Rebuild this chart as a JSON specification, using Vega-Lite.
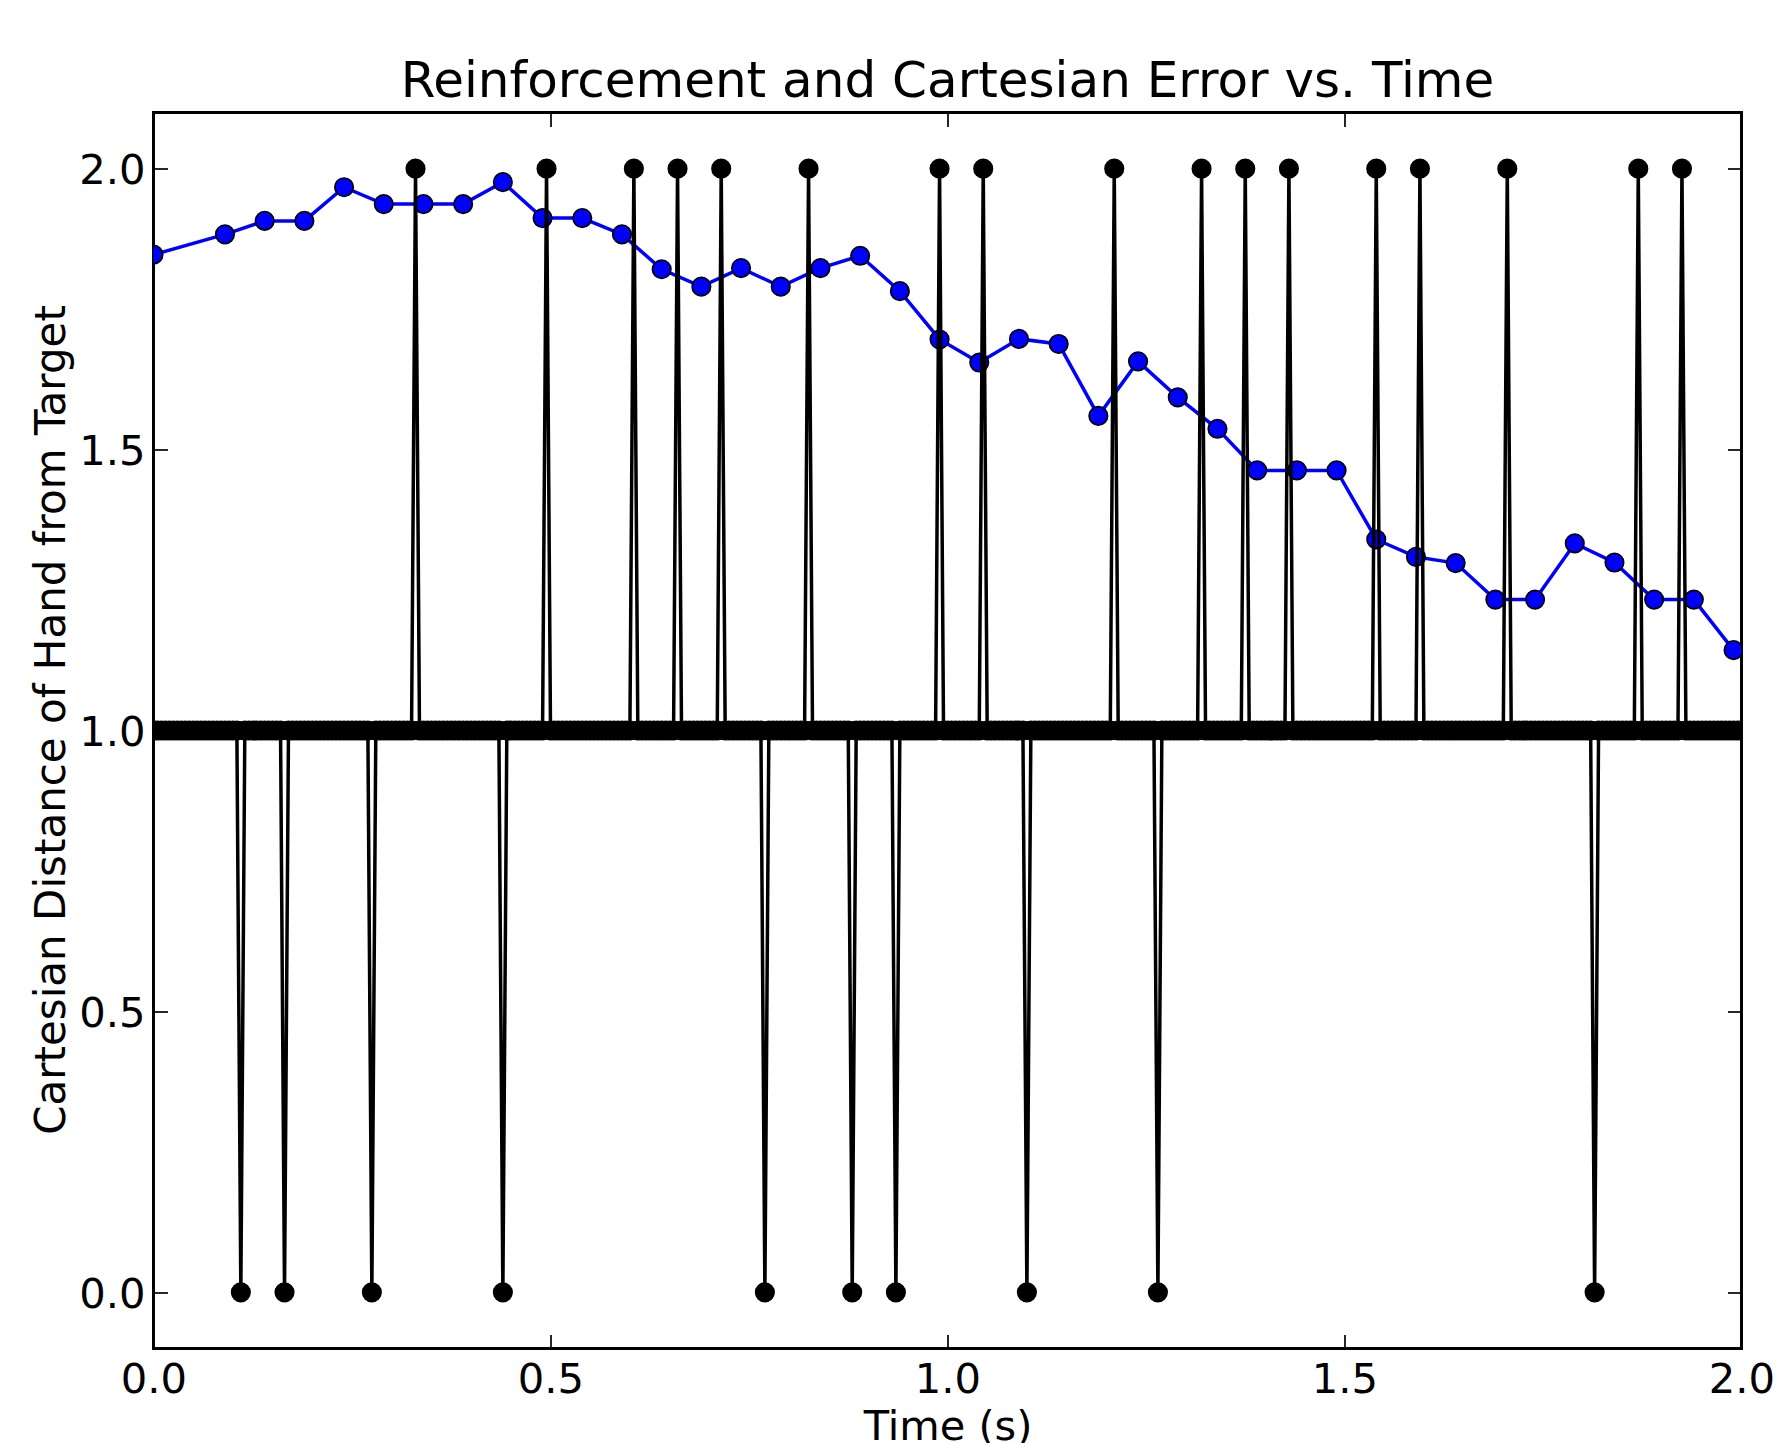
{
"$schema": "https://vega.github.io/schema/vega-lite/v6.json",
"width": 1588,
"height": 1236,
"autosize": {"type": "none"},
"padding": {"left": 153.5, "top": 112.5, "right": 35.5, "bottom": 94.5},
"background": "#ffffff",
"title": {"text": "Reinforcement and Cartesian Error vs. Time", "font": "DejaVu Sans", "fontSize": 50, "fontWeight": "normal", "color": "#000000", "anchor": "middle", "frame": "group", "baseline": "alphabetic", "offset": 16, "dy": 51},
"config": {
  "view": {"stroke": "#000000", "strokeWidth": 3},
  "font": "DejaVu Sans",
  "axis": {"grid": false, "domain": false, "tickSize": -14, "tickColor": "#000000", "tickWidth": 1.7, "labelFont": "DejaVu Sans", "labelFontSize": 41.7, "labelColor": "#000000", "labelFlush": false, "labelOverlap": false, "labelBound": false, "titleFont": "DejaVu Sans", "titleFontSize": 41.5, "titleFontWeight": "normal", "titleColor": "#000000"}
},
"datasets": {
  "error": [
    {"t":0.00,"d":1.847},{"t":0.09,"d":1.883},{"t":0.14,"d":1.907},{"t":0.19,"d":1.907},{"t":0.24,"d":1.967},{"t":0.29,"d":1.937},{"t":0.34,"d":1.937},{"t":0.39,"d":1.937},{"t":0.44,"d":1.976},{"t":0.49,"d":1.912},
    {"t":0.54,"d":1.912},{"t":0.59,"d":1.883},{"t":0.64,"d":1.821},{"t":0.69,"d":1.790},{"t":0.74,"d":1.823},{"t":0.79,"d":1.790},{"t":0.84,"d":1.823},{"t":0.89,"d":1.845},{"t":0.94,"d":1.782},{"t":0.99,"d":1.696},
    {"t":1.04,"d":1.655},{"t":1.09,"d":1.697},{"t":1.14,"d":1.688},{"t":1.19,"d":1.560},{"t":1.24,"d":1.657},{"t":1.29,"d":1.593},{"t":1.34,"d":1.537},{"t":1.39,"d":1.463},{"t":1.44,"d":1.463},{"t":1.49,"d":1.463},
    {"t":1.54,"d":1.340},{"t":1.59,"d":1.309},{"t":1.64,"d":1.298},{"t":1.69,"d":1.233},{"t":1.74,"d":1.233},{"t":1.79,"d":1.333},{"t":1.84,"d":1.299},{"t":1.89,"d":1.233},{"t":1.94,"d":1.233},{"t":1.99,"d":1.143}
  ],
  "reward": [
    {"t":0.000,"r":1},{"t":0.005,"r":1},{"t":0.010,"r":1},{"t":0.015,"r":1},{"t":0.020,"r":1},{"t":0.025,"r":1},{"t":0.030,"r":1},{"t":0.035,"r":1},{"t":0.040,"r":1},{"t":0.045,"r":1},{"t":0.050,"r":1},{"t":0.055,"r":1},{"t":0.060,"r":1},{"t":0.065,"r":1},{"t":0.070,"r":1},{"t":0.075,"r":1},{"t":0.080,"r":1},{"t":0.085,"r":1},{"t":0.090,"r":1},{"t":0.095,"r":1},
    {"t":0.100,"r":1},{"t":0.105,"r":1},{"t":0.110,"r":0},{"t":0.115,"r":1},{"t":0.120,"r":1},{"t":0.125,"r":1},{"t":0.130,"r":1},{"t":0.135,"r":1},{"t":0.140,"r":1},{"t":0.145,"r":1},{"t":0.150,"r":1},{"t":0.155,"r":1},{"t":0.160,"r":1},{"t":0.165,"r":0},{"t":0.170,"r":1},{"t":0.175,"r":1},{"t":0.180,"r":1},{"t":0.185,"r":1},{"t":0.190,"r":1},{"t":0.195,"r":1},
    {"t":0.200,"r":1},{"t":0.205,"r":1},{"t":0.210,"r":1},{"t":0.215,"r":1},{"t":0.220,"r":1},{"t":0.225,"r":1},{"t":0.230,"r":1},{"t":0.235,"r":1},{"t":0.240,"r":1},{"t":0.245,"r":1},{"t":0.250,"r":1},{"t":0.255,"r":1},{"t":0.260,"r":1},{"t":0.265,"r":1},{"t":0.270,"r":1},{"t":0.275,"r":0},{"t":0.280,"r":1},{"t":0.285,"r":1},{"t":0.290,"r":1},{"t":0.295,"r":1},
    {"t":0.300,"r":1},{"t":0.305,"r":1},{"t":0.310,"r":1},{"t":0.315,"r":1},{"t":0.320,"r":1},{"t":0.325,"r":1},{"t":0.330,"r":2},{"t":0.335,"r":1},{"t":0.340,"r":1},{"t":0.345,"r":1},{"t":0.350,"r":1},{"t":0.355,"r":1},{"t":0.360,"r":1},{"t":0.365,"r":1},{"t":0.370,"r":1},{"t":0.375,"r":1},{"t":0.380,"r":1},{"t":0.385,"r":1},{"t":0.390,"r":1},{"t":0.395,"r":1},
    {"t":0.400,"r":1},{"t":0.405,"r":1},{"t":0.410,"r":1},{"t":0.415,"r":1},{"t":0.420,"r":1},{"t":0.425,"r":1},{"t":0.430,"r":1},{"t":0.435,"r":1},{"t":0.440,"r":0},{"t":0.445,"r":1},{"t":0.450,"r":1},{"t":0.455,"r":1},{"t":0.460,"r":1},{"t":0.465,"r":1},{"t":0.470,"r":1},{"t":0.475,"r":1},{"t":0.480,"r":1},{"t":0.485,"r":1},{"t":0.490,"r":1},{"t":0.495,"r":2},
    {"t":0.500,"r":1},{"t":0.505,"r":1},{"t":0.510,"r":1},{"t":0.515,"r":1},{"t":0.520,"r":1},{"t":0.525,"r":1},{"t":0.530,"r":1},{"t":0.535,"r":1},{"t":0.540,"r":1},{"t":0.545,"r":1},{"t":0.550,"r":1},{"t":0.555,"r":1},{"t":0.560,"r":1},{"t":0.565,"r":1},{"t":0.570,"r":1},{"t":0.575,"r":1},{"t":0.580,"r":1},{"t":0.585,"r":1},{"t":0.590,"r":1},{"t":0.595,"r":1},
    {"t":0.600,"r":1},{"t":0.605,"r":2},{"t":0.610,"r":1},{"t":0.615,"r":1},{"t":0.620,"r":1},{"t":0.625,"r":1},{"t":0.630,"r":1},{"t":0.635,"r":1},{"t":0.640,"r":1},{"t":0.645,"r":1},{"t":0.650,"r":1},{"t":0.655,"r":1},{"t":0.660,"r":2},{"t":0.665,"r":1},{"t":0.670,"r":1},{"t":0.675,"r":1},{"t":0.680,"r":1},{"t":0.685,"r":1},{"t":0.690,"r":1},{"t":0.695,"r":1},
    {"t":0.700,"r":1},{"t":0.705,"r":1},{"t":0.710,"r":1},{"t":0.715,"r":2},{"t":0.720,"r":1},{"t":0.725,"r":1},{"t":0.730,"r":1},{"t":0.735,"r":1},{"t":0.740,"r":1},{"t":0.745,"r":1},{"t":0.750,"r":1},{"t":0.755,"r":1},{"t":0.760,"r":1},{"t":0.765,"r":1},{"t":0.770,"r":0},{"t":0.775,"r":1},{"t":0.780,"r":1},{"t":0.785,"r":1},{"t":0.790,"r":1},{"t":0.795,"r":1},
    {"t":0.800,"r":1},{"t":0.805,"r":1},{"t":0.810,"r":1},{"t":0.815,"r":1},{"t":0.820,"r":1},{"t":0.825,"r":2},{"t":0.830,"r":1},{"t":0.835,"r":1},{"t":0.840,"r":1},{"t":0.845,"r":1},{"t":0.850,"r":1},{"t":0.855,"r":1},{"t":0.860,"r":1},{"t":0.865,"r":1},{"t":0.870,"r":1},{"t":0.875,"r":1},{"t":0.880,"r":0},{"t":0.885,"r":1},{"t":0.890,"r":1},{"t":0.895,"r":1},
    {"t":0.900,"r":1},{"t":0.905,"r":1},{"t":0.910,"r":1},{"t":0.915,"r":1},{"t":0.920,"r":1},{"t":0.925,"r":1},{"t":0.930,"r":1},{"t":0.935,"r":0},{"t":0.940,"r":1},{"t":0.945,"r":1},{"t":0.950,"r":1},{"t":0.955,"r":1},{"t":0.960,"r":1},{"t":0.965,"r":1},{"t":0.970,"r":1},{"t":0.975,"r":1},{"t":0.980,"r":1},{"t":0.985,"r":1},{"t":0.990,"r":2},{"t":0.995,"r":1},
    {"t":1.000,"r":1},{"t":1.005,"r":1},{"t":1.010,"r":1},{"t":1.015,"r":1},{"t":1.020,"r":1},{"t":1.025,"r":1},{"t":1.030,"r":1},{"t":1.035,"r":1},{"t":1.040,"r":1},{"t":1.045,"r":2},{"t":1.050,"r":1},{"t":1.055,"r":1},{"t":1.060,"r":1},{"t":1.065,"r":1},{"t":1.070,"r":1},{"t":1.075,"r":1},{"t":1.080,"r":1},{"t":1.085,"r":1},{"t":1.090,"r":1},{"t":1.095,"r":1},
    {"t":1.100,"r":0},{"t":1.105,"r":1},{"t":1.110,"r":1},{"t":1.115,"r":1},{"t":1.120,"r":1},{"t":1.125,"r":1},{"t":1.130,"r":1},{"t":1.135,"r":1},{"t":1.140,"r":1},{"t":1.145,"r":1},{"t":1.150,"r":1},{"t":1.155,"r":1},{"t":1.160,"r":1},{"t":1.165,"r":1},{"t":1.170,"r":1},{"t":1.175,"r":1},{"t":1.180,"r":1},{"t":1.185,"r":1},{"t":1.190,"r":1},{"t":1.195,"r":1},
    {"t":1.200,"r":1},{"t":1.205,"r":1},{"t":1.210,"r":2},{"t":1.215,"r":1},{"t":1.220,"r":1},{"t":1.225,"r":1},{"t":1.230,"r":1},{"t":1.235,"r":1},{"t":1.240,"r":1},{"t":1.245,"r":1},{"t":1.250,"r":1},{"t":1.255,"r":1},{"t":1.260,"r":1},{"t":1.265,"r":0},{"t":1.270,"r":1},{"t":1.275,"r":1},{"t":1.280,"r":1},{"t":1.285,"r":1},{"t":1.290,"r":1},{"t":1.295,"r":1},
    {"t":1.300,"r":1},{"t":1.305,"r":1},{"t":1.310,"r":1},{"t":1.315,"r":1},{"t":1.320,"r":2},{"t":1.325,"r":1},{"t":1.330,"r":1},{"t":1.335,"r":1},{"t":1.340,"r":1},{"t":1.345,"r":1},{"t":1.350,"r":1},{"t":1.355,"r":1},{"t":1.360,"r":1},{"t":1.365,"r":1},{"t":1.370,"r":1},{"t":1.375,"r":2},{"t":1.380,"r":1},{"t":1.385,"r":1},{"t":1.390,"r":1},{"t":1.395,"r":1},
    {"t":1.400,"r":1},{"t":1.405,"r":1},{"t":1.410,"r":1},{"t":1.415,"r":1},{"t":1.420,"r":1},{"t":1.425,"r":1},{"t":1.430,"r":2},{"t":1.435,"r":1},{"t":1.440,"r":1},{"t":1.445,"r":1},{"t":1.450,"r":1},{"t":1.455,"r":1},{"t":1.460,"r":1},{"t":1.465,"r":1},{"t":1.470,"r":1},{"t":1.475,"r":1},{"t":1.480,"r":1},{"t":1.485,"r":1},{"t":1.490,"r":1},{"t":1.495,"r":1},
    {"t":1.500,"r":1},{"t":1.505,"r":1},{"t":1.510,"r":1},{"t":1.515,"r":1},{"t":1.520,"r":1},{"t":1.525,"r":1},{"t":1.530,"r":1},{"t":1.535,"r":1},{"t":1.540,"r":2},{"t":1.545,"r":1},{"t":1.550,"r":1},{"t":1.555,"r":1},{"t":1.560,"r":1},{"t":1.565,"r":1},{"t":1.570,"r":1},{"t":1.575,"r":1},{"t":1.580,"r":1},{"t":1.585,"r":1},{"t":1.590,"r":1},{"t":1.595,"r":2},
    {"t":1.600,"r":1},{"t":1.605,"r":1},{"t":1.610,"r":1},{"t":1.615,"r":1},{"t":1.620,"r":1},{"t":1.625,"r":1},{"t":1.630,"r":1},{"t":1.635,"r":1},{"t":1.640,"r":1},{"t":1.645,"r":1},{"t":1.650,"r":1},{"t":1.655,"r":1},{"t":1.660,"r":1},{"t":1.665,"r":1},{"t":1.670,"r":1},{"t":1.675,"r":1},{"t":1.680,"r":1},{"t":1.685,"r":1},{"t":1.690,"r":1},{"t":1.695,"r":1},
    {"t":1.700,"r":1},{"t":1.705,"r":2},{"t":1.710,"r":1},{"t":1.715,"r":1},{"t":1.720,"r":1},{"t":1.725,"r":1},{"t":1.730,"r":1},{"t":1.735,"r":1},{"t":1.740,"r":1},{"t":1.745,"r":1},{"t":1.750,"r":1},{"t":1.755,"r":1},{"t":1.760,"r":1},{"t":1.765,"r":1},{"t":1.770,"r":1},{"t":1.775,"r":1},{"t":1.780,"r":1},{"t":1.785,"r":1},{"t":1.790,"r":1},{"t":1.795,"r":1},
    {"t":1.800,"r":1},{"t":1.805,"r":1},{"t":1.810,"r":1},{"t":1.815,"r":0},{"t":1.820,"r":1},{"t":1.825,"r":1},{"t":1.830,"r":1},{"t":1.835,"r":1},{"t":1.840,"r":1},{"t":1.845,"r":1},{"t":1.850,"r":1},{"t":1.855,"r":1},{"t":1.860,"r":1},{"t":1.865,"r":1},{"t":1.870,"r":2},{"t":1.875,"r":1},{"t":1.880,"r":1},{"t":1.885,"r":1},{"t":1.890,"r":1},{"t":1.895,"r":1},
    {"t":1.900,"r":1},{"t":1.905,"r":1},{"t":1.910,"r":1},{"t":1.915,"r":1},{"t":1.920,"r":1},{"t":1.925,"r":2},{"t":1.930,"r":1},{"t":1.935,"r":1},{"t":1.940,"r":1},{"t":1.945,"r":1},{"t":1.950,"r":1},{"t":1.955,"r":1},{"t":1.960,"r":1},{"t":1.965,"r":1},{"t":1.970,"r":1},{"t":1.975,"r":1},{"t":1.980,"r":1},{"t":1.985,"r":1},{"t":1.990,"r":1},{"t":1.995,"r":1},
    {"t":2.000,"r":1}
  ]
},
"layer": [
  {
    "data": {"name": "error"},
    "mark": {"type": "line", "color": "#0000ff", "strokeWidth": 3.5, "clip": true},
    "encoding": {
      "x": {"field": "t", "type": "quantitative", "scale": {"domain": [0, 2], "nice": false, "zero": false},
            "axis": {"orient": "top", "values": [0, 0.5, 1, 1.5, 2], "labels": false, "title": null}},
      "y": {"field": "d", "type": "quantitative", "scale": {"domain": [-0.1, 2.1], "nice": false, "zero": false},
            "axis": {"orient": "right", "values": [0, 0.5, 1, 1.5, 2], "labels": false, "title": null}}
    }
  },
  {
    "data": {"name": "error"},
    "mark": {"type": "point", "shape": "circle", "filled": true, "fill": "#0000ff", "stroke": "#000000", "strokeWidth": 1.7, "size": 340, "opacity": 1, "clip": true},
    "encoding": {
      "x": {"field": "t", "type": "quantitative", "scale": {"domain": [0, 2], "nice": false, "zero": false}, "axis": null},
      "y": {"field": "d", "type": "quantitative", "scale": {"domain": [-0.1, 2.1], "nice": false, "zero": false}, "axis": null}
    }
  },
  {
    "data": {"name": "reward"},
    "mark": {"type": "line", "color": "#000000", "strokeWidth": 3.5, "clip": true},
    "encoding": {
      "x": {"field": "t", "type": "quantitative", "scale": {"domain": [0, 2], "nice": false, "zero": false},
            "axis": {"orient": "bottom", "values": [0, 0.5, 1, 1.5, 2], "format": ".1f", "labelAlign": "center", "labelBaseline": "alphabetic", "labelPadding": 57.5,
                     "title": "Time (s)", "titleBaseline": "alphabetic", "titleAlign": "center", "titleX": 794, "titleY": 90.5}},
      "y": {"field": "r", "type": "quantitative", "scale": {"domain": [-0.1, 2.1], "nice": false, "zero": false},
            "axis": {"orient": "left", "values": [0, 0.5, 1, 1.5, 2], "format": ".1f", "labelAlign": "right", "labelBaseline": "alphabetic", "labelOffset": 15, "labelPadding": 22.5,
                     "title": "Cartesian Distance of Hand from Target", "titleFontSize": 42, "titleAngle": -90, "titleBaseline": "alphabetic", "titleAlign": "center", "titleX": -89.5, "titleY": 607}}
    }
  },
  {
    "data": {"name": "reward"},
    "mark": {"type": "point", "shape": "circle", "filled": true, "fill": "#000000", "stroke": "#000000", "strokeWidth": 1.7, "size": 340, "opacity": 1, "clip": true},
    "encoding": {
      "x": {"field": "t", "type": "quantitative", "scale": {"domain": [0, 2], "nice": false, "zero": false}, "axis": null},
      "y": {"field": "r", "type": "quantitative", "scale": {"domain": [-0.1, 2.1], "nice": false, "zero": false}, "axis": null}
    }
  }
],
"resolve": {"axis": {"x": "independent", "y": "independent"}}
}
